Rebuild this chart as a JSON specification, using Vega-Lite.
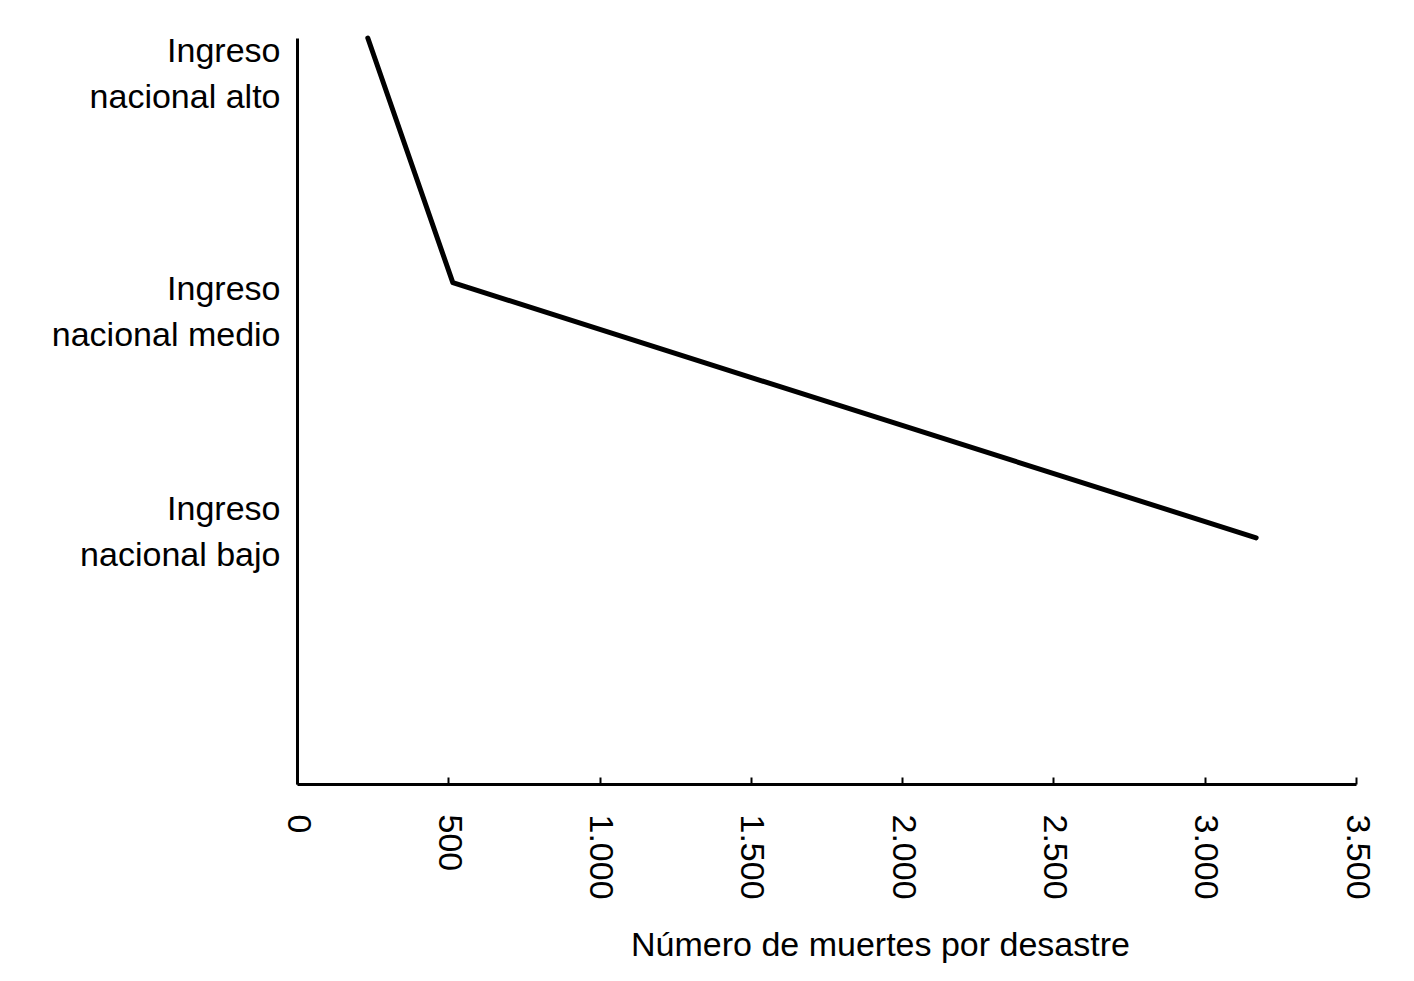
{
  "$schema": "https://vega.github.io/schema/vega-lite/v6.json",
  "width": 1059,
  "height": 746,
  "autosize": {"type": "none"},
  "padding": {"left": 297, "top": 38, "right": 58, "bottom": 197},
  "background": "white",
  "config": {
    "view": {"stroke": null},
    "font": "Liberation Sans",
    "axis": {"grid": false, "domainColor": "black", "domainWidth": 3, "tickColor": "black", "labelColor": "black", "titleColor": "black", "labelFont": "Liberation Sans", "titleFont": "Liberation Sans", "labelFontWeight": "normal", "titleFontWeight": "normal"}
  },
  "data": {
    "values": [
      {"muertes": 234, "nivel_ingreso": 10.0, "grupo": "Ingreso nacional alto"},
      {"muertes": 515, "nivel_ingreso": 6.72, "grupo": "Ingreso nacional medio"},
      {"muertes": 3170, "nivel_ingreso": 3.30, "grupo": "Ingreso nacional bajo"}
    ]
  },
  "mark": {"type": "line", "color": "black", "strokeWidth": 5, "strokeCap": "round", "strokeJoin": "round"},
  "encoding": {
    "x": {
      "field": "muertes",
      "type": "quantitative",
      "scale": {"domain": [0, 3500], "nice": false, "zero": true},
      "axis": {
        "title": "Número de muertes por desastre",
        "values": [0, 500, 1000, 1500, 2000, 2500, 3000, 3500],
        "labelExpr": "replace(format(datum.value, ','), ',', '.')",
        "labelAngle": 90,
        "labelAlign": "left",
        "labelBaseline": "middle",
        "labelFontSize": 34,
        "labelPadding": 37,
        "tickSize": -7,
        "tickWidth": 2,
        "labelFlush": false,
        "labelOverlap": false,
        "labelLimit": 400,
        "titleFontSize": 34,
        "titleX": 583,
        "titleY": 171,
        "titleAnchor": null,
        "titleAlign": "center",
        "titleBaseline": "alphabetic"
      }
    },
    "y": {
      "field": "nivel_ingreso",
      "type": "quantitative",
      "scale": {"domain": [0, 10], "nice": false},
      "axis": {
        "title": null,
        "values": [9.52, 6.33, 3.38],
        "labelExpr": "datum.value > 8 ? ['Ingreso', 'nacional alto'] : datum.value > 5 ? ['Ingreso', 'nacional medio'] : ['Ingreso', 'nacional bajo']",
        "ticks": false,
        "labelPadding": 17,
        "labelOffset": -22,
        "labelFontSize": 34,
        "labelLineHeight": 46,
        "labelBaseline": "middle",
        "labelLimit": 400,
        "labelFlush": false,
        "labelOverlap": false
      }
    }
  }
}
